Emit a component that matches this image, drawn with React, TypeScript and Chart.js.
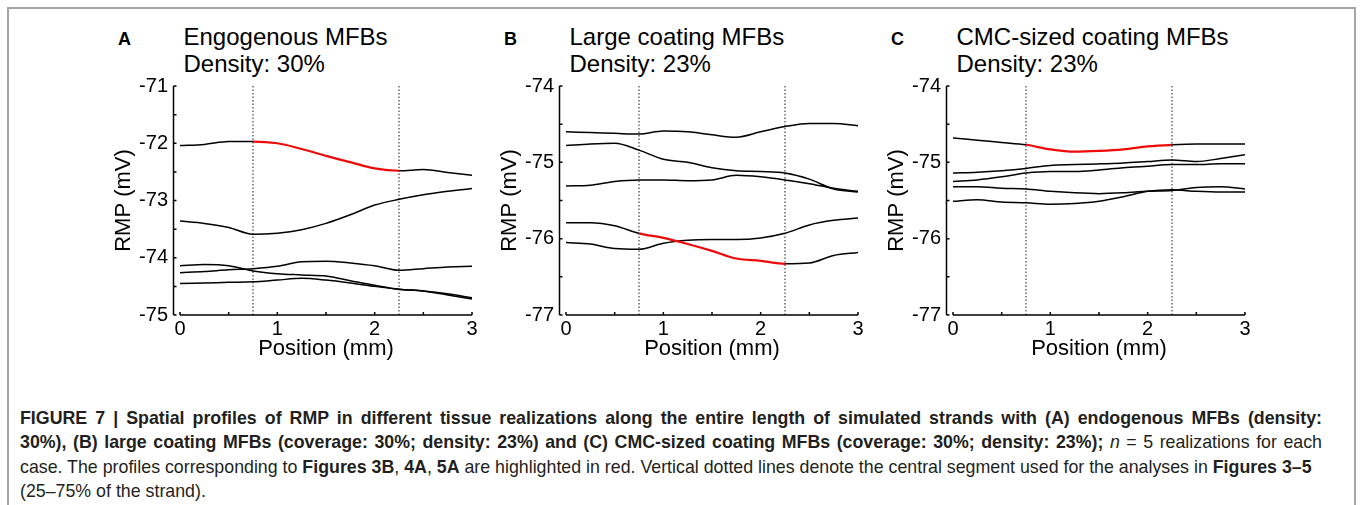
import React, { useEffect, useRef } from "react";
import { Chart, registerables } from "chart.js";

Chart.register(...registerables);

// ---------- data ----------
const POSITION_MM = [0, 0.25, 0.5, 0.75, 1, 1.25, 1.5, 1.75, 2, 2.25, 2.5, 2.75, 3];
const X_TICKS = [0, 1, 2, 3];
const CENTRAL_SEGMENT = [0.75, 2.25];
const MINOR_TICK_STEP = 0.5;

// Panel A: endogenous MFBs
const A_Y_TICKS = [-75, -74, -73, -72, -71];
const A_REAL_1 = [-72.04, -72.02, -71.97, -71.97, -72.0, -72.1, -72.22, -72.33, -72.44, -72.48, -72.46, -72.51, -72.56];
const A_REAL_2 = [-73.36, -73.4, -73.47, -73.59, -73.57, -73.51, -73.4, -73.25, -73.08, -72.98, -72.9, -72.84, -72.79];
const A_REAL_3 = [-74.14, -74.12, -74.14, -74.23, -74.28, -74.3, -74.32, -74.4, -74.48, -74.55, -74.58, -74.65, -74.72];
const A_REAL_4 = [-74.26, -74.24, -74.21, -74.19, -74.15, -74.07, -74.06, -74.09, -74.14, -74.22, -74.19, -74.16, -74.15];
const A_REAL_5 = [-74.45, -74.44, -74.43, -74.42, -74.39, -74.36, -74.39, -74.44, -74.5, -74.55, -74.58, -74.63, -74.7];
const A_HIGHLIGHT = 0;

// Panel B: large coating MFBs
const B_Y_TICKS = [-77, -76, -75, -74];
const B_REAL_1 = [-74.6, -74.61, -74.62, -74.63, -74.59, -74.6, -74.64, -74.67, -74.6, -74.53, -74.49, -74.49, -74.52];
const B_REAL_2 = [-74.78, -74.76, -74.75, -74.84, -74.96, -75.0, -75.07, -75.11, -75.12, -75.14, -75.22, -75.35, -75.39];
const B_REAL_3 = [-75.31, -75.3, -75.25, -75.23, -75.23, -75.24, -75.23, -75.17, -75.19, -75.23, -75.28, -75.34, -75.38];
const B_REAL_4 = [-75.79, -75.79, -75.83, -75.93, -75.99, -76.07, -76.16, -76.26, -76.29, -76.33, -76.32, -76.22, -76.18];
const B_REAL_5 = [-76.05, -76.07, -76.13, -76.14, -76.06, -76.02, -76.01, -76.01, -75.99, -75.93, -75.82, -75.76, -75.73];
const B_HIGHLIGHT = 3;

// Panel C: CMC-sized coating MFBs
const C_Y_TICKS = [-77, -76, -75, -74];
const C_REAL_1 = [-74.68, -74.71, -74.74, -74.77, -74.83, -74.86, -74.85, -74.83, -74.79, -74.77, -74.76, -74.76, -74.76];
const C_REAL_2 = [-75.14, -75.13, -75.11, -75.08, -75.04, -75.03, -75.02, -75.01, -74.99, -74.97, -74.99, -74.95, -74.9];
const C_REAL_3 = [-75.25, -75.23, -75.19, -75.14, -75.12, -75.12, -75.1, -75.07, -75.05, -75.03, -75.03, -75.02, -75.02];
const C_REAL_4 = [-75.32, -75.32, -75.34, -75.35, -75.38, -75.4, -75.41, -75.4, -75.38, -75.37, -75.33, -75.32, -75.35];
const C_REAL_5 = [-75.51, -75.49, -75.52, -75.53, -75.55, -75.54, -75.51, -75.45, -75.38, -75.36, -75.38, -75.39, -75.39];
const C_HIGHLIGHT = 0;

const PANEL_LETTERS = ["A", "B", "C"];
const PANEL_TITLES = ["Engogenous MFBs", "Large coating MFBs", "CMC-sized coating MFBs"];
const PANEL_SUBTITLES = ["Density: 30%", "Density: 23%", "Density: 23%"];
const X_TITLE = "Position (mm)";
const Y_TITLE = "RMP (mV)";

// ---------- styling / layout ----------
const FONT = "'Liberation Sans', Arial, Helvetica, sans-serif";
const RED = "rgb(238, 10, 10)";
const PANEL_X0 = [180, 566, 953];
const Y_SCALE_WIDTH = 72;
const PLOT_WIDTH = 292;
const CANVAS_W = Y_SCALE_WIDTH + PLOT_WIDTH + 14;
const CANVAS_H = 370;
const PLOT_TOP = 86;
const PLOT_BOTTOM = 315;
const Y_AXIS_OFFSET = 6.5;
const TICK_LEN = 3;

const PANELS = [
  { series: [A_REAL_1, A_REAL_2, A_REAL_3, A_REAL_4, A_REAL_5], highlight: A_HIGHLIGHT, yTicks: A_Y_TICKS },
  { series: [B_REAL_1, B_REAL_2, B_REAL_3, B_REAL_4, B_REAL_5], highlight: B_HIGHLIGHT, yTicks: B_Y_TICKS },
  { series: [C_REAL_1, C_REAL_2, C_REAL_3, C_REAL_4, C_REAL_5], highlight: C_HIGHLIGHT, yTicks: C_Y_TICKS },
];

const inCentral = (ctx: any) =>
  ctx.p0.parsed.x >= CENTRAL_SEGMENT[0] - 1e-9 && ctx.p1.parsed.x <= CENTRAL_SEGMENT[1] + 1e-9;

const axesPlugin = {
  id: "matlabAxes",
  afterDatasetsDraw(chart: any) {
    const { ctx } = chart;
    const x = chart.scales.x;
    const y = chart.scales.y;
    const x0 = x.getPixelForValue(x.min);
    const x1 = x.getPixelForValue(x.max);
    const yb = y.getPixelForValue(y.min);
    const yt = y.getPixelForValue(y.max);
    const ax = x0 - Y_AXIS_OFFSET;
    ctx.save();
    ctx.strokeStyle = "#000";
    ctx.lineWidth = 1.5;
    ctx.lineCap = "butt";
    ctx.beginPath();
    ctx.moveTo(ax, yt);
    ctx.lineTo(ax, yb);
    for (let v = y.min; v <= y.max + 1e-9; v += MINOR_TICK_STEP) {
      const p = y.getPixelForValue(v);
      ctx.moveTo(ax, p);
      ctx.lineTo(ax + TICK_LEN, p);
    }
    ctx.moveTo(x0, yb);
    ctx.lineTo(x1, yb);
    for (let v = x.min; v <= x.max + 1e-9; v += MINOR_TICK_STEP) {
      const p = x.getPixelForValue(v);
      ctx.moveTo(p, yb);
      ctx.lineTo(p, yb - TICK_LEN);
    }
    ctx.stroke();
    ctx.restore();
  },
};

function Panel({ index }: { index: number }) {
  const ref = useRef<HTMLCanvasElement | null>(null);
  useEffect(() => {
    const panel = PANELS[index];
    const yMin = Math.min(...panel.yTicks);
    const yMax = Math.max(...panel.yTicks);
    const datasets: any[] = panel.series.map((vals, i) => {
      const hl = i === panel.highlight;
      return {
        data: POSITION_MM.map((px, j) => ({ x: px, y: vals[j] })),
        borderColor: "#000",
        borderWidth: 1.5,
        pointRadius: 0,
        fill: false,
        cubicInterpolationMode: "monotone",
        order: hl ? 0 : 1,
        segment: hl
          ? {
              borderColor: (c: any) => (inCentral(c) ? RED : "#000"),
              borderWidth: (c: any) => (inCentral(c) ? 2.2 : 1.5),
            }
          : undefined,
      };
    });
    CENTRAL_SEGMENT.forEach((xv) => {
      datasets.push({
        data: [
          { x: xv, y: yMin },
          { x: xv, y: yMax },
        ],
        borderColor: "#333",
        borderWidth: 1.1,
        borderDash: [1.5, 2],
        pointRadius: 0,
        fill: false,
        order: 2,
      });
    });
    const chart = new Chart(ref.current as HTMLCanvasElement, {
      type: "line",
      data: { datasets },
      plugins: [axesPlugin],
      options: {
        animation: false,
        responsive: true,
        maintainAspectRatio: false,
        devicePixelRatio: 1,
        layout: { padding: { top: PLOT_TOP, right: CANVAS_W - Y_SCALE_WIDTH - PLOT_WIDTH, bottom: 0, left: 0 } },
        plugins: { legend: { display: false }, tooltip: { enabled: false }, title: { display: false } },
        scales: {
          x: {
            type: "linear",
            min: X_TICKS[0],
            max: X_TICKS[X_TICKS.length - 1],
            afterBuildTicks: (s: any) => {
              s.ticks = X_TICKS.map((v) => ({ value: v }));
            },
            afterFit: (s: any) => {
              s.height = CANVAS_H - PLOT_BOTTOM;
            },
            grid: { display: false, drawTicks: false },
            border: { display: false },
            ticks: { color: "#000", font: { family: FONT, size: 20 }, padding: 2, maxRotation: 0, autoSkip: false },
            title: {
              display: true,
              text: X_TITLE,
              color: "#000",
              font: { family: FONT, size: 22 },
              padding: { top: 0, bottom: 7.8 },
            },
          },
          y: {
            type: "linear",
            min: yMin,
            max: yMax,
            afterBuildTicks: (s: any) => {
              s.ticks = panel.yTicks.map((v) => ({ value: v }));
            },
            afterFit: (s: any) => {
              s.width = Y_SCALE_WIDTH;
            },
            grid: { display: false, drawTicks: false },
            border: { display: false },
            ticks: { color: "#000", font: { family: FONT, size: 20 }, padding: 12 },
            title: {
              display: true,
              text: Y_TITLE,
              color: "#000",
              font: { family: FONT, size: 22 },
              padding: { top: 2.8, bottom: 0 },
            },
          },
        },
      } as any,
    });
    return () => chart.destroy();
  }, [index]);

  const x0 = PANEL_X0[index];
  return (
    <>
      <div
        style={{
          position: "absolute",
          left: x0 - 62,
          top: 28.5,
          fontFamily: FONT,
          fontWeight: "bold",
          fontSize: 18,
          lineHeight: "20px",
          color: "#000",
        }}
      >
        {PANEL_LETTERS[index]}
      </div>
      <div
        style={{
          position: "absolute",
          left: x0 + 3.5,
          top: 23.2,
          fontFamily: FONT,
          fontSize: 24,
          lineHeight: "27px",
          color: "#000",
          whiteSpace: "nowrap",
        }}
      >
        <div>{PANEL_TITLES[index]}</div>
        <div>{PANEL_SUBTITLES[index]}</div>
      </div>
      <div
        style={{
          position: "absolute",
          left: x0 - Y_SCALE_WIDTH,
          top: 0,
          width: CANVAS_W,
          height: CANVAS_H,
        }}
      >
        <canvas ref={ref} />
      </div>
    </>
  );
}

const justifiedLine: React.CSSProperties = {
  width: 1302,
  textAlign: "justify",
  textAlignLast: "justify",
  whiteSpace: "normal",
  height: "24.4px",
  overflow: "hidden",
};

export default function App() {
  return (
    <div
      style={{
        position: "absolute",
        left: 0,
        top: 0,
        width: 1360,
        height: 505,
        overflow: "hidden",
        background: "#fff",
      }}
    >
      <div
        style={{
          position: "absolute",
          left: 7,
          top: 7,
          width: 1349,
          height: 520,
          boxSizing: "border-box",
          border: "2px solid #a5a5a5",
        }}
      />
      {[0, 1, 2].map((i) => (
        <Panel key={i} index={i} />
      ))}
      <div
        style={{
          position: "absolute",
          left: 20,
          top: 406,
          fontFamily: FONT,
          fontSize: 17.8,
          lineHeight: "24.4px",
          color: "#231f20",
        }}
      >
        <div style={justifiedLine}>
          <b>
            FIGURE 7 | Spatial profiles of RMP in different tissue realizations along the entire length of simulated
            strands with (A) endogenous MFBs (density:
          </b>
        </div>
        <div style={justifiedLine}>
          <b>
            30%), (B) large coating MFBs (coverage: 30%; density: 23%) and (C) CMC-sized coating MFBs (coverage: 30%;
            density: 23%);
          </b>{" "}
          <i>n</i> = 5 realizations for each
        </div>
        <div style={{ whiteSpace: "nowrap" }}>
          case. The profiles corresponding to <b>Figures 3B</b>, <b>4A</b>, <b>5A</b> are highlighted in red. Vertical
          dotted lines denote the central segment used for the analyses in <b>Figures 3–5</b>
        </div>
        <div style={{ whiteSpace: "nowrap" }}>(25–75% of the strand).</div>
      </div>
    </div>
  );
}
